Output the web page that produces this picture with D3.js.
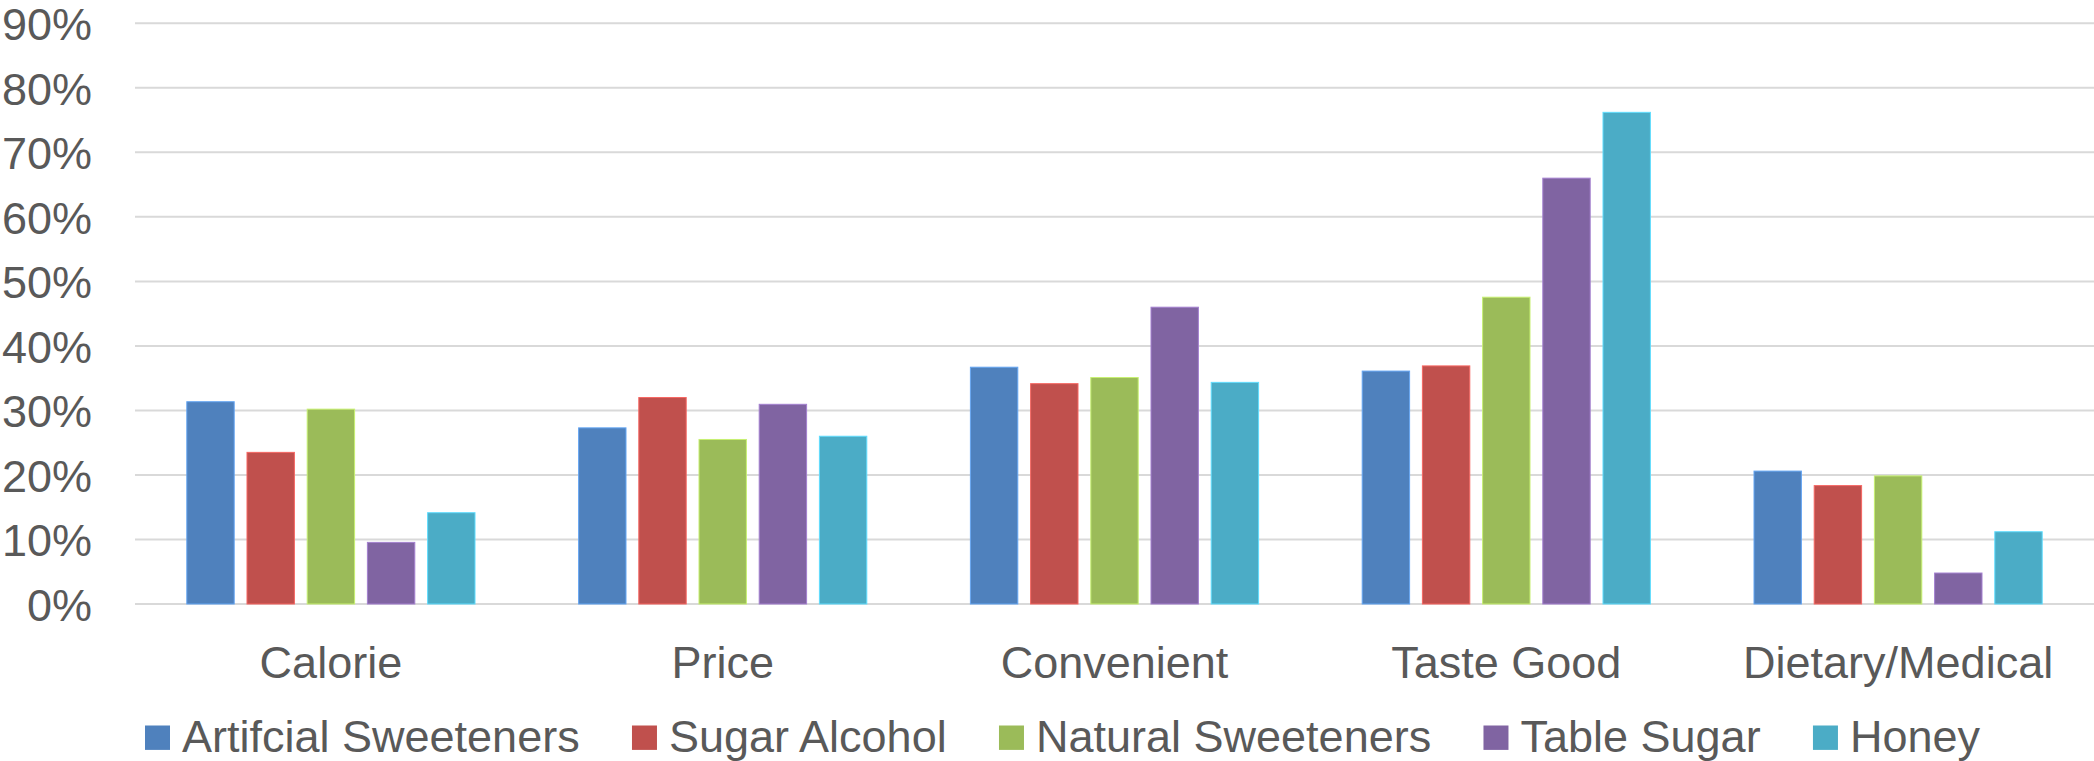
<!DOCTYPE html>
<html>
<head>
<meta charset="utf-8">
<script src="https://cdn.jsdelivr.net/npm/d3@7"></script>
<style>
  html, body { margin: 0; padding: 0; background: #ffffff; }
  svg { display: block; }
  text { font-family: "Liberation Sans", Arial, sans-serif; fill: #595959; }
</style>
</head>
<body>
<svg id="chart" width="2094" height="761"></svg>
<script>
// Reasons for choosing each sweetener (share of respondents, %)
const categories = ["Calorie", "Price", "Convenient", "Taste Good", "Dietary/Medical"];
const seriesNames = ["Artifcial Sweeteners", "Sugar Alcohol", "Natural Sweeteners", "Table Sugar", "Honey"];
const artificialSweeteners = [31.35, 27.3, 36.7, 36.1, 20.6];
const sugarAlcohol        = [23.5, 32.0, 34.15, 36.9, 18.35];
const naturalSweeteners   = [30.2, 25.5, 35.1, 47.55, 19.85];
const tableSugar          = [9.55, 30.95, 46.0, 66.0, 4.8];
const honey               = [14.15, 26.0, 34.35, 76.2, 11.2];
const yTicks = [0, 10, 20, 30, 40, 50, 60, 70, 80, 90];
const colors = ["#4F81BD", "#C0504D", "#9BBB59", "#8064A2", "#4BACC6"];

const seriesValues = [artificialSweeteners, sugarAlcohol, naturalSweeteners, tableSugar, honey];

const svg = d3.select("#chart");
const plot = { left: 135, right: 2094, top: 23.3, bottom: 604 };

const y = d3.scaleLinear().domain([0, 90]).range([plot.bottom, plot.top]);
const x0 = d3.scaleBand().domain(categories).range([plot.left, plot.right]).paddingInner(0).paddingOuter(0);
const groupWidth = 288.2;
const x1 = d3.scaleBand().domain(seriesNames).range([0, groupWidth]).paddingInner(0.2126).paddingOuter(0);
const color = d3.scaleOrdinal().domain(seriesNames).range(colors);

// horizontal gridlines
svg.append("g")
  .selectAll("line")
  .data(yTicks)
  .join("line")
  .attr("x1", plot.left)
  .attr("x2", plot.right)
  .attr("y1", d => y(d))
  .attr("y2", d => y(d))
  .attr("stroke", "#d9d9d9")
  .attr("stroke-width", 2);

// y axis labels
const yAxis = d3.axisLeft(y).tickValues(yTicks).tickFormat(d => d + "%").tickSize(0).tickPadding(0);
const yg = svg.append("g").attr("transform", "translate(92,0)").call(yAxis);
yg.select(".domain").remove();
yg.selectAll("text")
  .attr("font-size", 45)
  .attr("fill", "#595959")
  .attr("font-family", "'Liberation Sans', Arial, sans-serif")
  .attr("dy", "0.36em");

// bars
const rows = categories.map((c, i) => ({
  category: c,
  values: seriesNames.map((s, j) => ({ series: s, value: seriesValues[j][i] }))
}));

const groups = svg.append("g")
  .selectAll("g")
  .data(rows)
  .join("g")
  .attr("transform", d => `translate(${x0(d.category) + (x0.bandwidth() - groupWidth) / 2},0)`);

groups.selectAll("rect")
  .data(d => d.values)
  .join("rect")
  .attr("x", d => x1(d.series))
  .attr("width", x1.bandwidth())
  .attr("y", d => y(d.value))
  .attr("height", d => y(0) - y(d.value))
  .attr("fill", d => color(d.series))
  .attr("stroke", d => d3.color(color(d.series)).brighter(0.7))
  .attr("stroke-width", 1);

// category axis labels
const xAxis = d3.axisBottom(x0).tickSize(0).tickPadding(0);
const xg = svg.append("g").attr("transform", `translate(0,${plot.bottom})`).call(xAxis);
xg.select(".domain").remove();
xg.selectAll("text")
  .attr("font-size", 45)
  .attr("fill", "#595959")
  .attr("font-family", "'Liberation Sans', Arial, sans-serif")
  .attr("y", 74)
  .attr("dy", 0);

// legend along the bottom edge
const legend = svg.append("g");
let lx = 145;
seriesNames.forEach((name, i) => {
  const item = legend.append("g");
  item.append("rect")
    .attr("x", lx)
    .attr("y", 725.5)
    .attr("width", 25)
    .attr("height", 24.4)
    .attr("fill", colors[i]);
  const t = item.append("text")
    .attr("x", lx + 37)
    .attr("y", 751.5)
    .attr("font-size", 45)
    .text(name);
  lx = lx + 37 + t.node().getComputedTextLength() + 52.3;
});
</script>
</body>
</html>
